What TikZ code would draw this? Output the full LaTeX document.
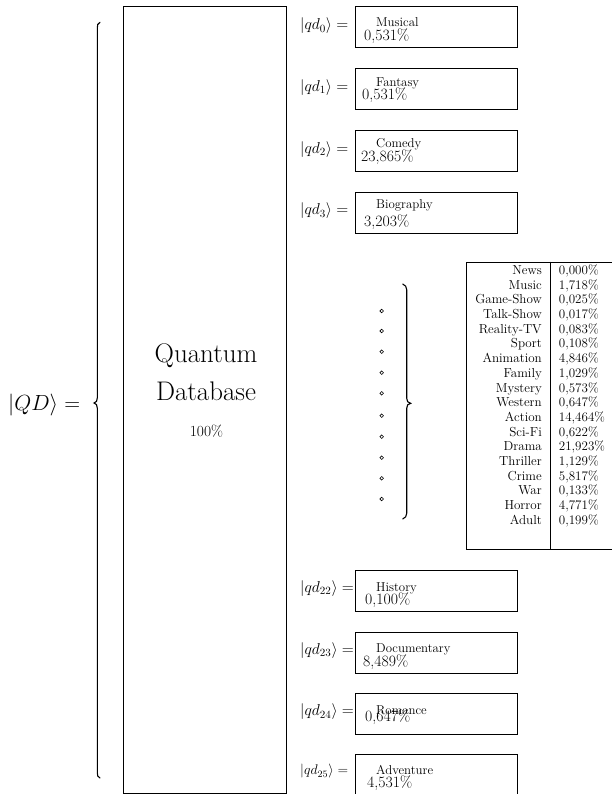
\documentclass[tikz,border=0pt]{standalone}
\usepackage{fix-cm}
\usepackage{fontspec}
\newcommand\fsz[1]{\fontsize{#1}{#1}\selectfont}
\begin{document}
\begin{tikzpicture}[x=1bp,y=-1bp,
  frame/.style={draw, line width=0.8bp, inner sep=0pt, anchor=north west},
  ket/.style={inner sep=0pt, anchor=west, font=\fsz{15.8}},
  gname/.style={inner sep=0pt, anchor=base west, font=\fsz{12.9}},
  gpct/.style={inner sep=0pt, anchor=base west, font=\fsz{15.8}},
  tlab/.style={inner sep=0pt, anchor=base east, font=\fsz{13.1}},
  tval/.style={inner sep=0pt, anchor=base west, font=\fsz{13.1}},
  bracepath/.style={line width=1.1bp, line cap=round},
  dotmark/.style={circle, draw, line width=0.6bp, inner sep=0pt, minimum size=3.6bp}]
\useasboundingbox (0,0) rectangle (612,794);

% big database box
\node[frame, minimum width=162.4bp, minimum height=787bp] (db) at (123.3,5.7) {};
\node[inner sep=0pt, anchor=base, font=\fsz{27}] (q1) at (206,362) {Quantum};
\node[inner sep=0pt, anchor=base, font=\fsz{27}] (q2) at (206,400.3) {Database};
\node[inner sep=0pt, anchor=base, font=\fsz{15.5}] (q3) at (206.5,436.4) {100\%};

% QD label
\node[inner sep=0pt, anchor=west, font=\fsz{22}] (qd) at (8,405) {$|QD\rangle =$};

% big left brace
\draw[bracepath] (100,22.3) .. controls (97.6,23.5) and (97.3,25) .. (97.3,28)
  -- (97.3,398) .. controls (97.3,401) and (96.2,402.4) .. (94,403)
  .. controls (96.2,403.6) and (97.3,405) .. (97.3,408)
  -- (97.3,772.5) .. controls (97.3,775.5) and (97.6,777) .. (100,778);

% top boxes
\node[frame, minimum width=161.7bp, minimum height=41bp] (b0) at (355,6) {};
\node[frame, minimum width=161.7bp, minimum height=41bp] (b1) at (355,68.3) {};
\node[frame, minimum width=161.7bp, minimum height=41bp] (b2) at (355,130) {};
\node[frame, minimum width=161.7bp, minimum height=41bp] (b3) at (355,191.7) {};

\node[ket] (k0) at (300,26) {$|qd_0\rangle =$};
\node[ket] (k1) at (300,87.5) {$|qd_1\rangle =$};
\node[ket] (k2) at (300,149.5) {$|qd_2\rangle =$};
\node[ket] (k3) at (300,211) {$|qd_3\rangle =$};

\node[gname] (n0) at (376,27) {Musical};
\node[gpct] (p0) at (364,40.9) {0,531\%};
\node[gname] (n1) at (376,86.8) {Fantasy};
\node[gpct] (p1) at (362,99.4) {0,531\%};
\node[gname] (n2) at (376,147) {Comedy};
\node[gpct] (p2) at (361,161.6) {23,865\%};
\node[gname] (n3) at (376,208) {Biography};
\node[gpct] (p3) at (364,226.6) {3,203\%};

% bottom boxes
\node[frame, minimum width=161.7bp, minimum height=41bp] (b22) at (355,570) {};
\node[frame, minimum width=161.7bp, minimum height=41bp] (b23) at (355,631.7) {};
\node[frame, minimum width=161.7bp, minimum height=41bp] (b24) at (355,693.3) {};
\node[frame, minimum width=161.7bp, minimum height=50bp] (b25) at (355,754) {};

\node[ket] (k22) at (300,588.5) {$|qd_{22}\rangle =$};
\node[ket] (k23) at (300,650.5) {$|qd_{23}\rangle =$};
\node[ket] (k24) at (300,712) {$|qd_{24}\rangle =$};
\node[ket, font=\fsz{14}] (k25) at (300,771.5) {$|qd_{25}\rangle =$};

\node[gname] (n22) at (376,591.2) {History};
\node[gpct] (p22) at (365,604.2) {0,100\%};
\node[gname] (n23) at (376,652.7) {Documentary};
\node[gpct] (p23) at (363,666.6) {8,489\%};
\node[gname] (n24) at (376,714.4) {Romance};
\node[gpct] (p24) at (365,721.6) {0,647\%};
\node[gname] (n25) at (376,774.7) {Adventure};
\node[gpct] (p25) at (367,787.2) {4,531\%};

% dots
\foreach \yy [count=\i] in {311,331,351.7,372.7,393.3,415.7,436.7,457.7,478.3,499}
  \node[dotmark] (dot\i) at (381.7,\yy) {};

% right brace
\draw[bracepath] (402.7,284) .. controls (405.3,285.2) and (406.7,286.7) .. (406.7,289.7)
  -- (406.7,398.3) .. controls (406.7,401.3) and (407.9,402.7) .. (410.7,403.3)
  .. controls (407.9,403.9) and (406.7,405.3) .. (406.7,408.3)
  -- (406.7,513.3) .. controls (406.7,516.3) and (405.3,517.8) .. (402.7,519);

% table
\node[frame, minimum width=149bp, minimum height=287.6bp] (tab) at (465.7,261.7) {};
\coordinate (d1) at (550,261.7);
\coordinate (d2) at (550,549.3);
\draw[line width=0.8bp] (d1) -- (d2);
\foreach \nm/\vl [count=\i from 0] in {News/0{,}000\%, Music/1{,}718\%, Game-Show/0{,}025\%,
  Talk-Show/0{,}017\%, Reality-TV/0{,}083\%, Sport/0{,}108\%, Animation/4{,}846\%,
  Family/1{,}029\%, Mystery/0{,}573\%, Western/0{,}647\%, Action/14{,}464\%,
  Sci-Fi/0{,}622\%, Drama/21{,}923\%, Thriller/1{,}129\%, Crime/5{,}817\%,
  War/0{,}133\%, Horror/4{,}771\%, Adult/0{,}199\%} {
  \node[tlab] (tl\i) at (542,274.4+14.7*\i) {\nm};
  \node[tval] (tv\i) at (558.7,274.4+14.7*\i) {\vl};
}
\end{tikzpicture}
\end{document}
